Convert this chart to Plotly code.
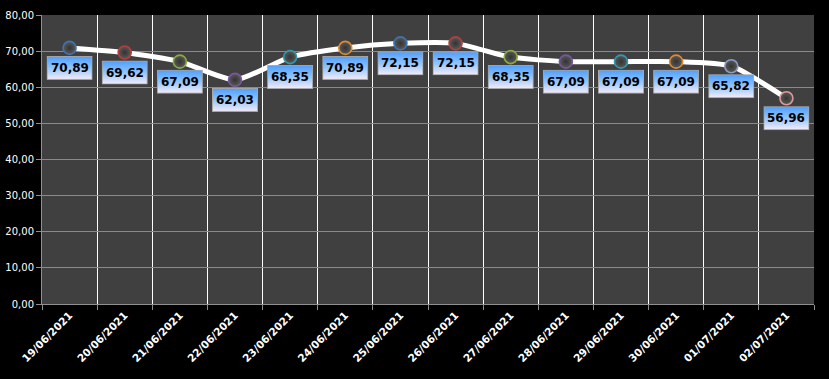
import base64
import plotly.graph_objects as go

dates = ["19/06/2021", "20/06/2021", "21/06/2021", "22/06/2021", "23/06/2021",
         "24/06/2021", "25/06/2021", "26/06/2021", "27/06/2021", "28/06/2021",
         "29/06/2021", "30/06/2021", "01/07/2021", "02/07/2021"]
values = [70.89, 69.62, 67.09, 62.03, 68.35, 70.89, 72.15, 72.15, 68.35,
          67.09, 67.09, 67.09, 65.82, 56.96]
rim_colors = ["#3f72b4", "#b83c3c", "#8caa3c", "#7856a0", "#2f9ab0", "#e08a30",
              "#3f72b4", "#b83c3c", "#8caa3c", "#7856a0", "#2f9ab0", "#e08a30",
              "#8a9cc0", "#d89a9a"]
y_ticks = [0, 10, 20, 30, 40, 50, 60, 70, 80]

W, H = 829, 379
ML, MR, MT, MB = 42, 15, 15, 75
PW, PH = W - ML - MR, H - MT - MB
YMAX = 80

svg = ('<svg xmlns="http://www.w3.org/2000/svg" width="46" height="24" viewBox="0 0 46 24" preserveAspectRatio="none">'
       '<defs><linearGradient id="g" x1="0" y1="0" x2="0" y2="1">'
       '<stop offset="0" stop-color="#4d9fff"/><stop offset="0.5" stop-color="#92c4fd"/>'
       '<stop offset="1" stop-color="#f5ecf9"/></linearGradient></defs>'
       '<rect x="0.5" y="0.5" width="45" height="23" fill="url(#g)" stroke="#a8a8a8" stroke-width="1"/></svg>')
src = "data:image/svg+xml;base64," + base64.b64encode(svg.encode()).decode()

fig = go.Figure()
fig.add_trace(go.Scatter(
    x=dates, y=values, mode="lines",
    line=dict(color="white", width=5, shape="spline", smoothing=0.6),
    hoverinfo="skip", showlegend=False,
))
fig.add_trace(go.Scatter(
    x=dates, y=values, mode="markers",
    marker=dict(size=13, color="#5a5a5a", line=dict(width=1.6, color=rim_colors),
                gradient=dict(type="radial", color="#333333")),
    hoverinfo="skip", showlegend=False,
))

box_w, box_h, off = 46, 24, 20
images, annotations = [], []
n = len(dates)
for i, (d, v) in enumerate(zip(dates, values)):
    xp = (i + 0.5) / n
    yp = v / YMAX - off / PH
    images.append(dict(source=src, xref="paper", yref="paper", x=xp, y=yp,
                       sizex=box_w / PW, sizey=box_h / PH, xanchor="center",
                       yanchor="middle", sizing="stretch", layer="above"))
    annotations.append(dict(x=d, y=v, xref="x", yref="y", text=f"{v:.2f}".replace(".", ","),
                            showarrow=False, yshift=-off,
                            font=dict(family="DejaVu Sans", size=12, color="black", weight="bold")))

fig.update_layout(
    width=W, height=H,
    margin=dict(l=ML, r=MR, t=MT, b=MB, autoexpand=False),
    paper_bgcolor="black", plot_bgcolor="#404040",
    images=images, annotations=annotations,
    xaxis=dict(type="category", tickson="boundaries", showgrid=True, gridcolor="white",
               gridwidth=1, ticks="outside", ticklen=5, tickcolor="#909090",
               tickangle=-45, showline=True, linecolor="#909090", automargin=False,
               tickfont=dict(family="DejaVu Sans", size=10.5, color="white", weight="bold"),
               range=[-0.5, n - 0.5], fixedrange=True),
    yaxis=dict(range=[0, YMAX], tickvals=y_ticks, automargin=False,
               ticktext=[f"{t:.2f}".replace(".", ",") for t in y_ticks],
               showgrid=True, gridcolor="#8a8a8a", gridwidth=1, zeroline=False,
               ticks="outside", ticklen=5, tickcolor="#909090",
               showline=True, linecolor="#909090", fixedrange=True,
               tickfont=dict(family="DejaVu Sans", size=10, color="white")),
)

fig.write_html("out.html", config={"displayModeBar": False, "staticPlot": True},
               post_script="document.body.style.margin='0';document.body.style.overflow='hidden';document.body.style.background='black';")
